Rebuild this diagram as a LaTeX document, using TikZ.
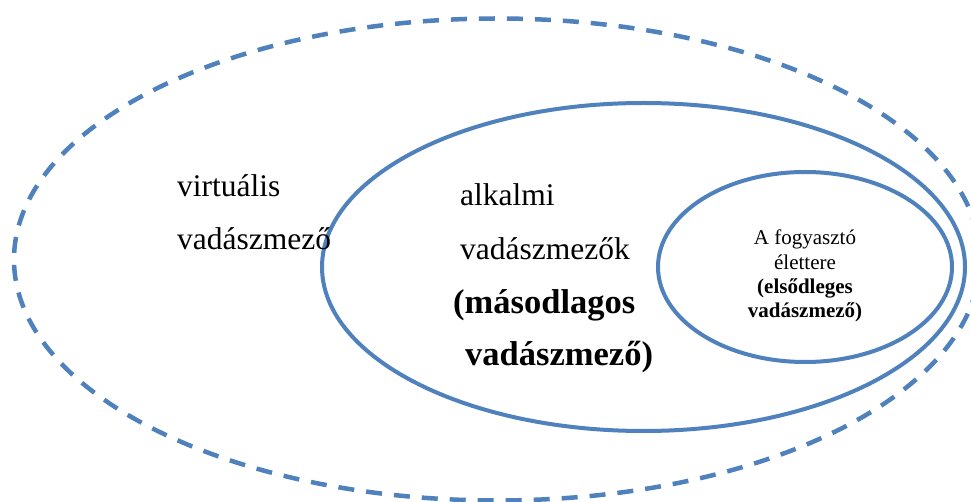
\documentclass[tikz,border=0pt]{standalone}
\usepackage{fontspec}
\setmainfont{Liberation Serif}
\definecolor{ringblue}{HTML}{4F81BD}
\tikzset{
  ring/.style={draw=ringblue, line width=4pt},
  dashring/.style={draw=ringblue, line width=4.5pt, dash pattern=on 16pt off 12pt},
  bigtxt/.style={anchor=base west, inner sep=0pt, font=\fontsize{31.5}{36}\selectfont},
  boldtxt/.style={anchor=base west, inner sep=0pt, font=\fontsize{34.5}{40}\selectfont\bfseries},
  smalltxt/.style={anchor=base, inner sep=0pt, font=\fontsize{21}{24}\selectfont},
  smallbold/.style={anchor=base, inner sep=0pt, font=\fontsize{21}{24}\selectfont\bfseries}
}
\begin{document}
\begin{tikzpicture}[x=1pt,y=-1pt]
\useasboundingbox (0,0) rectangle (971,502);
\fill[white] (0,0) rectangle (971,502);
\begin{scope}
\clip (0,0) rectangle (971,502);
% rings
\draw[dashring] (497,259.5) ellipse [x radius=483, y radius=241];
\draw[ring] (643.5,267) ellipse [x radius=321.5, y radius=164];
\draw[ring] (805,267) ellipse [x radius=147, y radius=95];
\end{scope}
% outer labels
\node[bigtxt] (v1) at (177,197) {virtuális};
\node[bigtxt] (v2) at (177,250) {vadászmező};
% middle labels
\node[bigtxt] (m1) at (460,206) {alkalmi};
\node[bigtxt] (m2) at (460,260) {vadászmezők};
\node[boldtxt] (m3) at (453,313) {(másodlagos};
\node[boldtxt] (m4) at (465,365) {vadászmező)};
% inner labels
\node[smalltxt] (i1) at (805,245) {A fogyasztó};
\node[smalltxt] (i2) at (805,270) {élettere};
\node[smallbold] (i3) at (805,294) {(elsődleges};
\node[smallbold] (i4) at (805,318) {vadászmező)};
\end{tikzpicture}
\end{document}
